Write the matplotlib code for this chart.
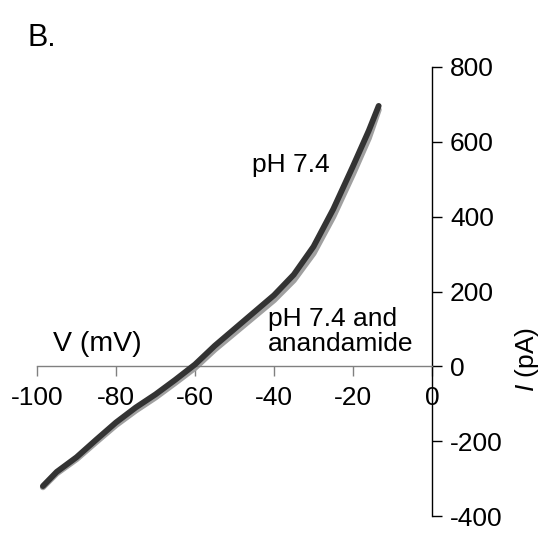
import matplotlib
matplotlib.use("Agg")
import matplotlib.pyplot as plt

# Membrane voltage (mV) and whole-cell current (pA)
voltage = [-98.5, -95, -90, -85, -80, -75, -70, -65, -60, -55, -50,
           -45, -40, -35, -30, -25, -20, -16, -13.5]
current_ph74 = [-320, -282, -243, -196, -150, -110, -75, -36, 5, 55, 100,
                145, 190, 245, 320, 420, 535, 630, 696]
current_anandamide = [-323, -286, -248, -202, -157, -118, -83, -44, -4, 45, 89,
                      133, 177, 230, 302, 400, 514, 610, 686]

x_ticks = [-100, -80, -60, -40, -20, 0]
y_ticks = [-400, -200, 0, 200, 400, 600, 800]

plt.rcParams['font.family'] = ['Liberation Sans', 'DejaVu Sans']
plt.rcParams['mathtext.fontset'] = 'custom'
plt.rcParams['mathtext.rm'] = 'Liberation Sans'
plt.rcParams['mathtext.it'] = 'Liberation Sans:italic'

fig = plt.figure(figsize=(5.45, 5.33), dpi=100)
ax = fig.add_axes([37 / 545, 17 / 533, 395 / 545, 449 / 533])

ax.plot(voltage, current_anandamide, color='#a0a0a0', lw=4.4,
        solid_capstyle='round', solid_joinstyle='round', zorder=2)
ax.plot(voltage, current_ph74, color='#333333', lw=4.2,
        solid_capstyle='round', solid_joinstyle='round', zorder=3)

ax.set_xlim(-100, 0)
ax.set_ylim(-400, 800)

for side in ('left', 'top'):
    ax.spines[side].set_visible(False)
ax.spines['bottom'].set_position(('data', 0))
ax.spines['bottom'].set_color('#808080')
ax.spines['right'].set_color('black')
for side in ('bottom', 'right'):
    ax.spines[side].set_linewidth(1.0)

ax.set_xticks(x_ticks)
ax.set_xticklabels([str(v) for v in x_ticks])
ax.set_yticks(y_ticks)
ax.set_yticklabels([str(v) for v in y_ticks])

ax.yaxis.tick_right()
ax.tick_params(axis='x', direction='out', length=7, width=1.0,
               color='#808080', labelsize=19, pad=7)
ax.tick_params(axis='y', direction='out', length=7, width=1.0,
               labelsize=19, pad=6)

# Current axis title, italic symbol followed by the unit
fig.text(527 / 545, 1 - 360 / 533, r'$\mathit{I}$ (pA)', rotation=90,
         fontsize=19, ha='center', va='center')

ax.text(-95.9, 59, 'V (mV)', fontsize=20.5, ha='left', va='center')
ax.text(-45.5, 537, 'pH 7.4', fontsize=19, ha='left', va='center')
ax.text(-41.5, 94, 'pH 7.4 and\nanandamide', fontsize=19, ha='left',
        va='center', linespacing=1.05)
fig.text(27 / 545, 1 - 38 / 533, 'B.', fontsize=22, ha='left', va='center')

fig.savefig('out.png', dpi=100, facecolor='white')
